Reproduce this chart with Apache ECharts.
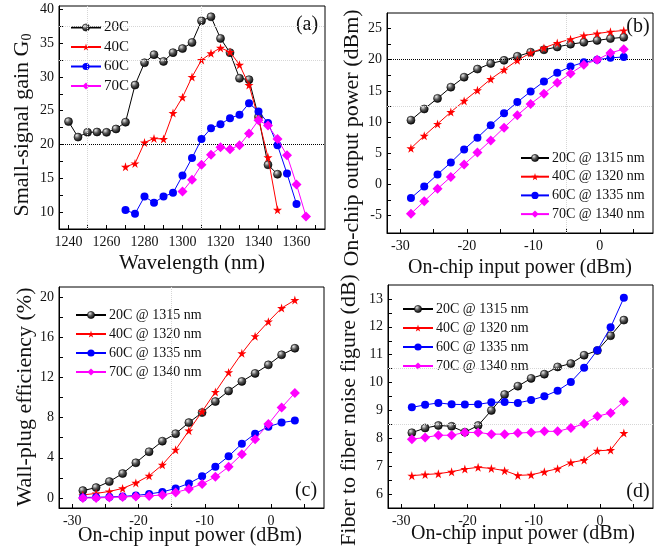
<!DOCTYPE html>
<html><head><meta charset="utf-8">
<script src="https://cdn.jsdelivr.net/npm/echarts@6/dist/echarts.min.js"></script>
<style>html,body{margin:0;padding:0;background:#fff}#c{width:665px;height:552px}</style>
</head><body><div id="c"></div>
<script>
// ---------- Panel (a): small-signal gain vs wavelength ----------
const wavelength20C = [1240,1245,1250,1255,1260,1265,1270,1275,1280,1285,1290,1295,1300,1305,1310,1315,1320,1325,1330,1335,1340,1345,1350];
const gain20C = [23.4,21.1,21.8,21.85,21.8,22.3,23.3,28.8,32.1,33.3,32.3,33.6,34.2,35.1,38.3,38.9,35.7,33.6,29.8,29.6,24.1,17.0,15.6];
const wavelength40C = [1270,1275,1280,1285,1290,1295,1300,1305,1310,1315,1320,1325,1330,1335,1340,1345,1350];
const gain40C = [16.7,17.2,20.3,20.9,20.8,24.65,27.0,30.0,32.5,33.5,34.3,33.7,31.8,28.8,23.8,18.1,10.35];
const wavelength60C = [1270,1275,1280,1285,1290,1295,1300,1305,1310,1315,1320,1325,1330,1335,1340,1345,1350,1355,1360];
const gain60C = [10.3,9.75,12.3,11.4,12.3,12.85,15.4,18.0,20.8,22.4,23.0,23.9,24.4,26.1,24.9,23.2,19.9,15.7,11.2];
const wavelength70C = [1300,1305,1310,1315,1320,1325,1330,1335,1340,1345,1350,1355,1360,1365];
const gain70C = [13.05,14.8,17.0,18.5,19.6,19.3,19.9,21.65,23.6,22.8,20.8,18.4,14.1,9.35];

// ---------- Panels (b)(c)(d): shared on-chip input power ----------
const inputPower = [-28.4,-26.4,-24.4,-22.4,-20.4,-18.4,-16.4,-14.4,-12.4,-10.4,-8.4,-6.4,-4.4,-2.4,-0.4,1.6,3.6];
// (b) on-chip output power (dBm)
const outPower20C = [10.3,12.1,13.8,15.6,17.2,18.5,19.4,19.9,20.55,21.2,21.6,22.05,22.5,22.8,23.1,23.4,23.6];
const outPower40C = [5.8,7.8,9.7,11.6,13.4,15.1,16.9,18.4,19.9,21.1,21.9,22.7,23.3,23.9,24.2,24.5,24.7];
const outPower60C = [-2.2,-0.35,1.6,3.5,5.6,7.5,9.5,11.4,13.2,14.9,16.5,17.9,18.9,19.6,20.0,20.3,20.45];
const outPower70C = [-4.7,-2.7,-0.7,1.2,3.2,5.1,7.05,9.1,11.1,12.9,14.55,16.3,17.8,19.2,20.0,21.1,21.7];
// (c) wall-plug efficiency (%)
const wpe20C = [0.73,1.03,1.63,2.43,3.5,4.6,5.65,6.4,7.5,8.5,9.6,10.65,11.6,12.4,13.25,14.25,14.9];
const wpe40C = [0.3,0.45,0.65,0.95,1.5,2.2,3.3,4.8,6.7,8.6,10.55,12.5,14.4,16.1,17.55,18.9,19.7];
const wpe60C = [0.05,0.07,0.1,0.15,0.25,0.4,0.6,0.95,1.45,2.15,3.1,4.15,5.4,6.4,7.1,7.5,7.7];
const wpe70C = [0.0,0.0,0.05,0.1,0.15,0.2,0.3,0.55,0.9,1.4,2.1,3.1,4.35,5.85,7.35,9.0,10.45];
// (d) fiber to fiber noise figure (dB)
const nf20C = [8.2,8.37,8.46,8.43,8.22,8.46,9.0,9.57,9.87,10.15,10.3,10.56,10.68,10.98,11.15,11.68,12.24];
const nf40C = [6.66,6.7,6.73,6.8,6.9,6.96,6.92,6.84,6.67,6.69,6.8,6.91,7.13,7.22,7.55,7.58,8.19];
const nf60C = [9.11,9.2,9.27,9.22,9.21,9.22,9.29,9.3,9.27,9.37,9.51,9.71,10.02,10.53,11.16,11.98,13.04];
const nf70C = [7.97,8.03,8.11,8.11,8.21,8.21,8.15,8.15,8.19,8.21,8.25,8.25,8.37,8.52,8.79,8.91,9.32];

// ---------- names & tick labels ----------
const namesA = ['20C','40C','60C','70C'];
const namesBCD = ['20C @ 1315 nm','40C @ 1320 nm','60C @ 1335 nm','70C @ 1340 nm'];
const ticksWavelength = [1240,1260,1280,1300,1320,1340,1360];
const ticksGain = [10,15,20,25,30,35,40];
const ticksPower = [-30,-20,-10,0];
const ticksOutPower = [-5,0,5,10,15,20,25];
const ticksWpe = [0,4,8,12,16,20];
const ticksNf = [6,7,8,9,10,11,12,13];

const SERIF = 'Liberation Serif';
const zip = (xs, ys) => xs.map((x, i) => [x, ys[i]]);
function minorBetween(arr, extraBefore, extraAfter) {
  const out = [];
  const step = arr[1] - arr[0];
  if (extraBefore) out.push(arr[0] - step / 2);
  for (let i = 0; i < arr.length; i++) {
    out.push(arr[i]);
    if (i < arr.length - 1) out.push(arr[i] + step / 2);
  }
  if (extraAfter) out.push(arr[arr.length - 1] + step / 2);
  return out;
}

const mkSphere = () => new echarts.graphic.RadialGradient(0.35, 0.3, 0.75, [
  {offset: 0, color: '#e8e8e8'}, {offset: 0.45, color: '#555'}, {offset: 1, color: '#000'}]);
const STAR = 'path://M50,0 L61,35 L98,35 L68,57 L79,91 L50,70 L21,91 L32,57 L2,35 L39,35 Z';
const styles = [
  {color: '#000', symbol: 'circle', size: 8, fill: mkSphere()},
  {color: '#ff0000', symbol: STAR, size: 9, fill: '#ff0000'},
  {color: '#0000ff', symbol: 'circle', size: 8, fill: '#0000ff'},
  {color: '#ff00ff', symbol: 'diamond', size: 10, fill: '#ff00ff'}
];
const plain = v => String(v);

function xAxis(gi, min, max, labels, ticks) {
  return {type: 'value', gridIndex: gi, min, max,
    axisLine: {show: true, onZero: false, lineStyle: {color: '#000', width: 1}},
    axisTick: {show: true, inside: true, length: 4, customValues: ticks, lineStyle: {color: '#000'}},
    axisLabel: {customValues: labels, formatter: plain, fontFamily: SERIF, fontSize: 14, color: '#111', margin: 6},
    splitLine: {show: false}};
}
function yAxis(gi, min, max, labels, ticks) {
  return {type: 'value', gridIndex: gi, min, max,
    axisLine: {show: true, onZero: false, lineStyle: {color: '#000', width: 1}},
    axisTick: {show: true, inside: true, length: 4, customValues: ticks, lineStyle: {color: '#000'}},
    axisLabel: {customValues: labels, formatter: plain, fontFamily: SERIF, fontSize: 14, color: '#111', margin: 5},
    splitLine: {show: false}};
}
function mkSeries(name, idx, gi, xs, ys, extra) {
  const st = styles[idx];
  return Object.assign({
    type: 'line', name, xAxisIndex: gi, yAxisIndex: gi,
    data: zip(xs, ys), symbol: st.symbol, symbolSize: st.size,
    lineStyle: {color: st.color, width: 1},
    itemStyle: {color: st.fill, borderColor: st.color, borderWidth: idx === 0 ? 0.6 : 0},
    emphasis: {disabled: true}, z: 3 + idx
  }, extra || {});
}
const faint = {color: '#d6d6d6', type: 'dotted', width: 1};
const blackDot = {color: '#000', type: 'dotted', width: 1};
function marks(items) {
  return {markLine: {silent: true, symbol: 'none', label: {show: false}, animation: false,
    data: items}};
}

const series = [
  mkSeries(namesA[0], 0, 0, wavelength20C, gain20C, marks([
    {yAxis: 20, lineStyle: blackDot}, {yAxis: 32.5, lineStyle: faint}, {yAxis: 37.5, lineStyle: faint},
    {xAxis: 1250, lineStyle: faint}, {xAxis: 1310, lineStyle: faint}])),
  mkSeries(namesA[1], 1, 0, wavelength40C, gain40C),
  mkSeries(namesA[2], 2, 0, wavelength60C, gain60C),
  mkSeries(namesA[3], 3, 0, wavelength70C, gain70C),

  mkSeries(namesBCD[0], 0, 1, inputPower, outPower20C, marks([
    {yAxis: 20, lineStyle: blackDot}, {yAxis: 12.5, lineStyle: faint}, {xAxis: -5, lineStyle: faint}])),
  mkSeries(namesBCD[1], 1, 1, inputPower, outPower40C),
  mkSeries(namesBCD[2], 2, 1, inputPower, outPower60C),
  mkSeries(namesBCD[3], 3, 1, inputPower, outPower70C),

  mkSeries(namesBCD[0], 0, 2, inputPower, wpe20C, marks([{xAxis: -15, lineStyle: faint}])),
  mkSeries(namesBCD[1], 1, 2, inputPower, wpe40C),
  mkSeries(namesBCD[2], 2, 2, inputPower, wpe60C),
  mkSeries(namesBCD[3], 3, 2, inputPower, wpe70C),

  mkSeries(namesBCD[0], 0, 3, inputPower, nf20C, marks([{yAxis: 8.5, lineStyle: faint}, {yAxis: 10.5, lineStyle: faint}])),
  mkSeries(namesBCD[1], 1, 3, inputPower, nf40C),
  mkSeries(namesBCD[2], 2, 3, inputPower, nf60C),
  mkSeries(namesBCD[3], 3, 3, inputPower, nf70C)
];

function legend(names, left, top, fs, gap, w) {
  const data = names.map((n, i) => i === 0
    ? {name: n, itemStyle: {color: mkSphere(), borderColor: '#000', borderWidth: 0.6}}
    : {name: n});
  return {data, orient: 'vertical', left, top, itemWidth: w, itemHeight: 9, itemGap: gap,
    selectedMode: false, padding: 0, inactiveColor: '#000',
    textStyle: {fontFamily: SERIF, fontSize: fs, lineHeight: fs, color: '#111', padding: [0, 0, 0, -2]}};
}

function title(text, x, y, rot, fs, rich) {
  return {type: 'text', x, y, rotation: rot, silent: true,
    style: {text, font: fs + 'px "' + SERIF + '"', fill: '#111', align: 'center', verticalAlign: 'middle', rich}};
}
const R = Math.PI / 2;

const gridBase = {show: true, borderColor: '#000', borderWidth: 1, backgroundColor: 'transparent', containLabel: false, outerBoundsMode: 'none'};

const option = {
  animation: false,
  backgroundColor: '#fff',
  grid: [
    Object.assign({left: 59, top: 6, width: 266, height: 223}, gridBase),
    Object.assign({left: 387, top: 13, width: 266, height: 220}, gridBase),
    Object.assign({left: 59, top: 287, width: 265, height: 221}, gridBase),
    Object.assign({left: 388, top: 285, width: 265, height: 223}, gridBase)
  ],
  xAxis: [
    xAxis(0, 1235, 1375, ticksWavelength, minorBetween(ticksWavelength, false, true)),
    xAxis(1, -32, 8, ticksPower, minorBetween(ticksPower, false, true)),
    xAxis(2, -32, 8, ticksPower, minorBetween(ticksPower, false, true)),
    xAxis(3, -32, 8, ticksPower, minorBetween(ticksPower, false, true))
  ],
  yAxis: [
    yAxis(0, 7.5, 40.5, ticksGain, minorBetween(ticksGain, false, false)),
    yAxis(1, -7.8, 27.5, ticksOutPower, minorBetween(ticksOutPower, false, false)),
    yAxis(2, -1, 21, ticksWpe, minorBetween(ticksWpe, false, false)),
    yAxis(3, 5.5, 13.5, ticksNf, minorBetween(ticksNf, false, false))
  ],
  legend: [
    legend(namesA, 70, 20, 15, 4.5, 30),
    legend(namesBCD, 520, 151, 14, 4.7, 28),
    legend(namesBCD, 75, 308, 14, 5, 30),
    legend(namesBCD, 402, 302, 14, 5, 30)
  ],
  graphic: [
    title('Small-signal gain G{s|0}', 22, 125, R, 22, {s: {fontFamily: SERIF, fontSize: 14, padding: [10, 0, 0, 0], fill: '#111'}}),
    title('On-chip output power (dBm)', 352, 138, R, 22),
    title('Wall-plug efficiency (%)', 25, 397, R, 22),
    title('Fiber to fiber noise figure (dB)', 349, 410, R, 22),
    title('Wavelength (nm)', 192, 263, 0, 21),
    title('On-chip input power (dBm)', 520, 268, 0, 20),
    title('On-chip input power (dBm)', 190, 536, 0, 20),
    title('On-chip input power (dBm)', 523, 534, 0, 20),
    title('(a)', 307, 25, 0, 20),
    title('(b)', 638, 27, 0, 20),
    title('(c)', 306, 491, 0, 20),
    title('(d)', 638, 492, 0, 20)
  ],
  series
};
const chart = echarts.init(document.getElementById('c'), null, {renderer: 'canvas'});
chart.setOption(option);
</script></body></html>
